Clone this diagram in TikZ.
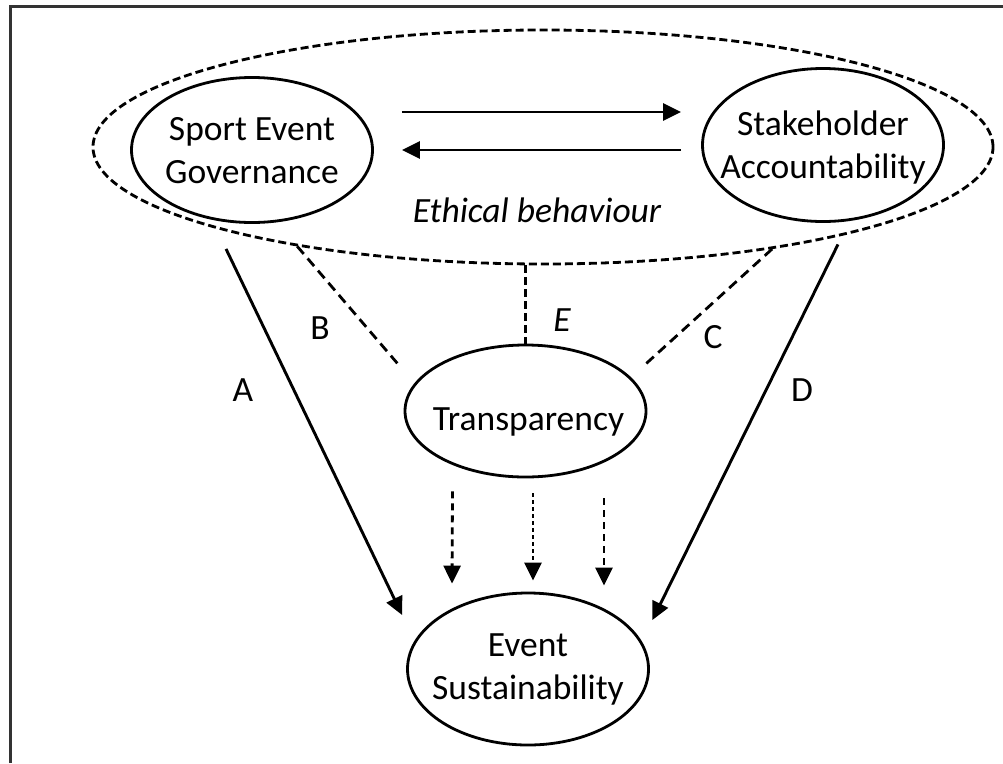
\documentclass[tikz,border=0pt]{standalone}
\usepackage{fontspec}
\setmainfont{Carlito}
\usetikzlibrary{shapes.geometric,arrows.meta}
\begin{document}
\begin{tikzpicture}[x=1pt,y=-1pt,
  txt/.style={font=\fontsize{35.5}{43}\selectfont},
  itxt/.style={font=\fontsize{35.5}{43}\selectfont\itshape},
  oval/.style={ellipse, draw, line width=2.8pt, inner sep=0pt, minimum width=241pt},
  bigoval/.style={ellipse, draw, line width=2.8pt, inner sep=0pt, dash pattern=on 8pt off 4pt},
  arr/.style={line width=2.9pt, -{Triangle[length=18pt,width=17pt]}},
  dline/.style={line width=2.8pt, dash pattern=on 10pt off 6pt},
  eline/.style={line width=2.8pt, dash pattern=on 8pt off 4pt},
  darr/.style={line width=2.8pt, dash pattern=on 7pt off 5pt, -{Triangle[length=18pt,width=17pt]}},
  darrb/.style={line width=2.8pt, dash pattern=on 4pt off 3pt, -{Triangle[length=18pt,width=17pt]}},
  frame/.style={line width=3pt, black!80}
]
\useasboundingbox (0,0) rectangle (1003,763);
\draw[frame] (10,763) -- (10,6) -- (1003,6);

\node[bigoval, minimum width=900pt, minimum height=234pt] (eth) at (543,147) {};
\node[oval, minimum height=145pt, label={[txt, align=center, yshift=-1pt]center:Sport Event\\Governance}] (seg) at (252,150) {};
\node[oval, minimum height=153pt, label={[txt, align=center, yshift=-3pt]center:Stakeholder\\Accountability}] (sa) at (823,145) {};
\node[oval, minimum height=132pt, label={[txt, xshift=3pt, yshift=-11pt]center:Transparency}] (tr) at (525.5,411) {};
\node[oval, minimum height=152pt, label={[txt, align=center]center:Event\\Sustainability}] (es) at (528,669) {};
\node[itxt] (ethtxt) at (537,210) {Ethical behaviour};

\draw[arr] ([shift={(28,-38)}]seg.east) -- ([shift={(-20,-33)}]sa.west);
\draw[arr] ([shift={(-20,5)}]sa.west) -- ([shift={(28,0)}]seg.east);

\draw[arr] ([shift={(-26,25)}]seg.south) -- ([shift={(-4,-54)}]es.west);
\draw[arr] ([shift={(15,21.5)}]sa.south) -- ([shift={(2.5,-49)}]es.east);

\draw[dline] (eth.202) -- ([shift={(-125,-44)}]tr.center);
\draw[dline] (eth.336) -- ([shift={(118,-45)}]tr.center);
\draw[eline] (tr.north |- eth.south) -- (tr.north);

\draw[darr] ([shift={(-73,13)}]tr.south) -- ([shift={(-76,-8)}]es.north);
\draw[darrb] ([shift={(7.5,15)}]tr.south) -- ([shift={(5,-11)}]es.north);
\draw[darr] ([shift={(78.5,20)}]tr.south) -- ([shift={(76,-6)}]es.north);

\node[txt] (la) at (243,390) {A};
\node[txt] (lb) at (320,328) {B};
\node[itxt] (le) at (562,320) {E};
\node[txt] (lc) at (713,337) {C};
\node[txt] (ld) at (802,390) {D};
\end{tikzpicture}
\end{document}
